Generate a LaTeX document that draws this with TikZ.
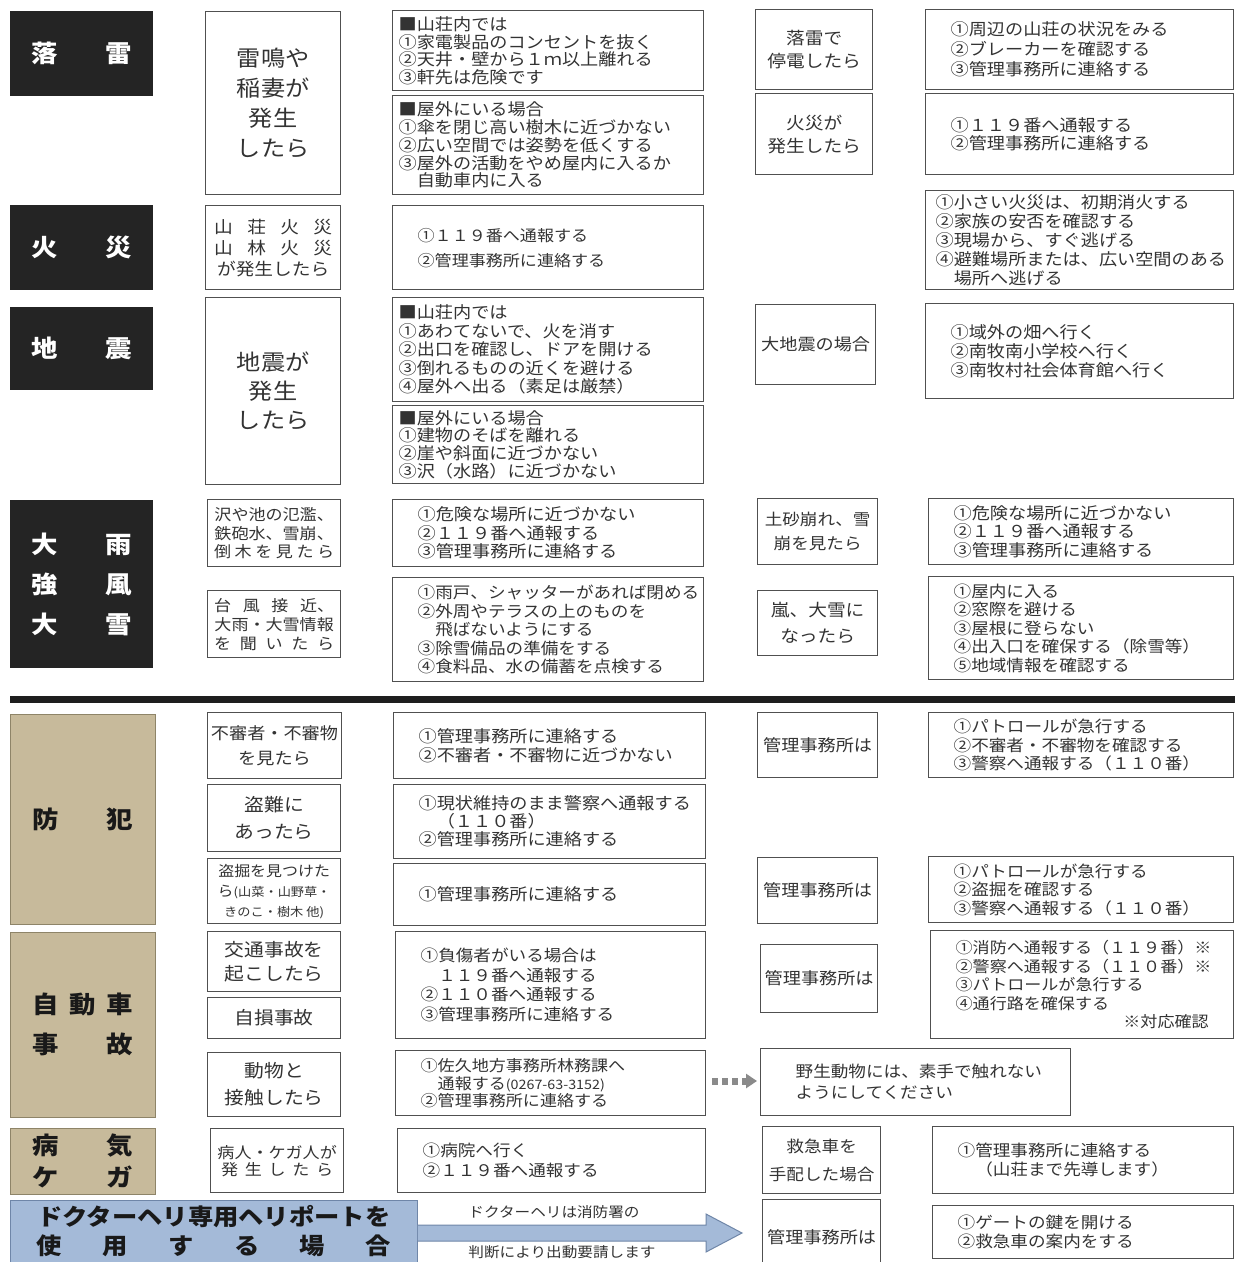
\documentclass[tikz,border=0pt]{standalone}
\usepackage{fontspec}
\setmainfont[FakeStretch=1.1]{Noto Sans CJK JP}
\usetikzlibrary{arrows.meta}
\definecolor{barc}{HTML}{8A8A8A}
\definecolor{boxc}{HTML}{505050}
\definecolor{txtc}{HTML}{333333}
\definecolor{ttlc}{HTML}{242424}
\definecolor{tanc}{HTML}{C7BA9B}
\definecolor{tanb}{HTML}{8E8468}
\definecolor{bluc}{HTML}{A4BAD8}
\definecolor{blub}{HTML}{6F86A8}
\definecolor{sepc}{HTML}{1E1E1E}
\newcommand\myfs[2]{\fontsize{#1}{#2}\selectfont}
\newcommand\spr[2]{\makebox[#1pt][s]{#2}}
\pgfdeclarelayer{bg}
\pgfsetlayers{bg,main}
\tikzset{
  box/.style={draw=boxc, line width=1.3pt, fill=white, text=txtc},
  bar/.style={draw=barc, line width=8pt},
  ttl/.style={fill=ttlc, text=white, font=\myfs{24}{40}\bfseries, align=center, inner sep=0pt},
  tanbox/.style={fill=tanc, draw=tanb, line width=0.6pt, text=black!90, font=\myfs{24}{40}\bfseries, align=center, inner sep=0pt},
  blubox/.style={fill=bluc, draw=blub, line width=0.8pt, text=black!90, font=\myfs{23}{29}\bfseries, align=center, inner sep=0pt},
  atext/.style={text=txtc, font=\myfs{14.2}{16}, inner sep=0pt},
  dotarr/.style={draw=barc, line width=7pt, dash pattern=on 6pt off 4pt, -{Triangle[length=11pt,width=14pt]}}
}
\newcommand\cbx[7]{\pgfmathsetmacro\bw{#4-#2}\pgfmathsetmacro\bh{#5-#3}%
  \node[box,align=center,minimum width=\bw pt,minimum height=\bh pt,anchor=north west,font=#6] (#1) at (#2,#3) {#7};}
\newcommand\lbx[8]{\pgfmathsetmacro\bh{#5-#3}\pgfmathsetmacro\tw{#4-#2-2*#6}%
  \node[box,align=left,inner xsep=#6pt,text width=\tw pt,minimum height=\bh pt,anchor=north west,font=#7] (#1) at (#2,#3) {#8};}
\newcommand\tbx[7]{\pgfmathsetmacro\bw{#4-#2}\pgfmathsetmacro\bh{#5-#3}%
  \node[#6,minimum width=\bw pt,minimum height=\bh pt,anchor=north west] (#1) at (#2,#3) {#7};}
\begin{document}
\begin{tikzpicture}[x=1pt,y=-1pt]
\clip (0,0) rectangle (1235,1262);
\fill[white] (0,0) rectangle (1235,1262);

% ---------- 落雷 ----------
\tbx{B1}{10}{11}{153}{96}{ttl}{\spr{100}{落\hfil 雷}}
\cbx{C1}{205}{11}{340}{194}{\myfs{22}{30}}{雷鳴や\\稲妻が\\発生\\したら}
\lbx{D1a}{392}{10}{703}{90}{6}{\myfs{16.5}{17.5}}{■山荘内では\\①家電製品のコンセントを抜く\\②天井・壁から１ｍ以上離れる\\③軒先は危険です}
\lbx{D1b}{392}{95}{703}{194}{6}{\myfs{16.5}{17.8}}{■屋外にいる場合\\①傘を閉じ高い樹木に近づかない\\②広い空間では姿勢を低くする\\③屋外の活動をやめ屋内に入るか\\　自動車内に入る}
\cbx{E1a}{755}{9}{872}{89}{\myfs{17}{23}}{落雷で\\停電したら}
\cbx{E1b}{755}{93}{872}{174}{\myfs{17}{23}}{火災が\\発生したら}
\lbx{F1a}{925}{9}{1233}{89}{25}{\myfs{16.5}{20}}{①周辺の山荘の状況をみる\\②ブレーカーを確認する\\③管理事務所に連絡する}
\lbx{F1b}{925}{93}{1233}{174}{25}{\myfs{16.5}{18}}{①１１９番へ通報する\\②管理事務所に連絡する}

% ---------- 火災 ----------
\tbx{B2}{10}{205}{153}{290}{ttl}{\spr{100}{火\hfil 災}}
\cbx{C2}{205}{205}{340}{289}{\myfs{17}{21}}{\spr{118}{山\hfil 荘\hfil 火\hfil 災}\\\spr{118}{山\hfil 林\hfil 火\hfil 災}\\が発生したら}
\lbx{D2}{392}{205}{703}{289}{25}{\myfs{15.5}{25}}{①１１９番へ通報する\\②管理事務所に連絡する}
\lbx{F2}{925}{190}{1233}{289}{10}{\myfs{16.5}{19}}{①小さい火災は、初期消火する\\②家族の安否を確認する\\③現場から、すぐ逃げる\\④避難場所または、広い空間のある\\　場所へ逃げる}

% ---------- 地震 ----------
\tbx{B3}{10}{307}{153}{390}{ttl}{\spr{100}{地\hfil 震}}
\cbx{C3}{205}{297}{340}{484}{\myfs{22}{29}}{地震が\\発生\\したら}
\lbx{D3a}{392}{297}{703}{401}{6}{\myfs{16.5}{18.5}}{■山荘内では\\①あわてないで、火を消す\\②出口を確認し、ドアを開ける\\③倒れるものの近くを避ける\\④屋外へ出る（素足は厳禁）}
\lbx{D3b}{392}{405}{703}{483}{6}{\myfs{16.5}{17.8}}{■屋外にいる場合\\①建物のそばを離れる\\②崖や斜面に近づかない\\③沢（水路）に近づかない}
\cbx{E3}{755}{304}{875}{384}{\myfs{16.5}{20}}{大地震の場合}
\lbx{F3}{925}{303}{1233}{398}{25}{\myfs{16.5}{19}}{①域外の畑へ行く\\②南牧南小学校へ行く\\③南牧村社会体育館へ行く}

% ---------- 大雨 強風 大雪 ----------
\tbx{B4}{10}{500}{153}{668}{ttl}{\spr{100}{大\hfil 雨}\\\spr{100}{強\hfil 風}\\\spr{100}{大\hfil 雪}}
\cbx{C4a}{207}{499}{340}{566}{\myfs{15.5}{18.5}}{沢や池の氾濫、\\鉄砲水、雪崩、\\\spr{120}{倒\hfil 木\hfil を\hfil 見\hfil た\hfil ら}}
\cbx{C4b}{207}{590}{340}{657}{\myfs{15.5}{19}}{\spr{120}{台\hfil 風\hfil 接\hfil 近、}\\大雨・大雪情報\\\spr{120}{を\hfil 聞\hfil い\hfil た\hfil ら}}
\lbx{D4a}{392}{499}{703}{566}{25}{\myfs{16.5}{18.5}}{①危険な場所に近づかない\\②１１９番へ通報する\\③管理事務所に連絡する}
\lbx{D4b}{392}{577}{703}{681}{25}{\myfs{16}{18.5}}{①雨戸、シャッターがあれば閉める\\②外周やテラスの上のものを\\　飛ばないようにする\\③除雪備品の準備をする\\④食料品、水の備蓄を点検する}
\cbx{E4a}{757}{498}{877}{564}{\myfs{16}{24}}{土砂崩れ、雪\\崩を見たら}
\cbx{E4b}{757}{590}{877}{655}{\myfs{17}{26}}{嵐、大雪に\\なったら}
\lbx{F4a}{928}{498}{1233}{564}{25}{\myfs{16.5}{18.5}}{①危険な場所に近づかない\\②１１９番へ通報する\\③管理事務所に連絡する}
\lbx{F4b}{928}{576}{1233}{679}{25}{\myfs{16}{18.5}}{①屋内に入る\\②窓際を避ける\\③屋根に登らない\\④出入口を確保する（除雪等）\\⑤地域情報を確認する}

% separator
\draw[line width=7pt, sepc] (10,699) -- (1235,699);

% ---------- 防犯 ----------
\tbx{B5}{10}{714}{155}{924}{tanbox}{\spr{100}{防\hfil 犯}}
\cbx{C5a}{207}{712}{340}{778}{\myfs{16.5}{25}}{不審者・不審物\\を見たら}
\cbx{C5b}{207}{784}{340}{851}{\myfs{18}{27}}{盗難に\\あったら}
\cbx{C5c}{207}{858}{340}{923}{\myfs{14.5}{20}}{盗掘を見つけた\\ら{\myfs{12}{20}(山菜・山野草・}\\{\myfs{12}{20}きのこ・樹木 他)}}
\lbx{D5a}{393}{712}{705}{778}{25}{\myfs{16.5}{18.5}}{①管理事務所に連絡する\\②不審者・不審物に近づかない}
\lbx{D5b}{393}{784}{705}{858}{25}{\myfs{16.5}{18}}{①現状維持のまま警察へ通報する\\　（１１０番）\\②管理事務所に連絡する}
\lbx{D5c}{393}{863}{705}{925}{25}{\myfs{16.5}{18}}{①管理事務所に連絡する}
\cbx{E5a}{757}{712}{877}{777}{\myfs{16.5}{20}}{管理事務所は}
\lbx{F5a}{928}{712}{1233}{777}{25}{\myfs{16}{18.5}}{①パトロールが急行する\\②不審者・不審物を確認する\\③警察へ通報する（１１０番）}
\cbx{E5c}{757}{857}{877}{923}{\myfs{16.5}{20}}{管理事務所は}
\lbx{F5c}{928}{856}{1233}{922}{25}{\myfs{16}{18.5}}{①パトロールが急行する\\②盗掘を確認する\\③警察へ通報する（１１０番）}

% ---------- 自動車事故 ----------
\tbx{B6}{10}{932}{155}{1117}{tanbox}{\spr{100}{自\hfil 動\hfil 車}\\\spr{100}{事\hfil 故}}
\cbx{C6a}{207}{931}{340}{991}{\myfs{18}{24}}{交通事故を\\起こしたら}
\cbx{C6b}{207}{997}{340}{1038}{\myfs{18}{20}}{自損事故}
\cbx{C6c}{207}{1052}{340}{1116}{\myfs{18}{27}}{動物と\\接触したら}
\lbx{D6a}{395}{931}{705}{1038}{25}{\myfs{16}{19.5}}{①負傷者がいる場合は\\　１１９番へ通報する\\②１１０番へ通報する\\③管理事務所に連絡する}
\lbx{D6c}{395}{1050}{705}{1115}{25}{\myfs{15.5}{17.5}}{①佐久地方事務所林務課へ\\　通報する{\myfs{13}{17.5}(0267-63-3152)}\\②管理事務所に連絡する}
\cbx{E6a}{760}{944}{877}{1012}{\myfs{16.5}{20}}{管理事務所は}
\lbx{F6a}{930}{930}{1233}{1038}{25}{\myfs{15.5}{18.5}}{①消防へ通報する（１１９番）※\\②警察へ通報する（１１０番）※\\③パトロールが急行する\\④通行路を確保する\\\hspace*{\fill}※対応確認}
\lbx{G6}{760}{1048}{1070}{1115}{35}{\myfs{16}{21}}{野生動物には、素手で触れない\\ようにしてください}

% ---------- 病気 ケガ ----------
\tbx{B7}{10}{1128}{155}{1194}{tanbox,font=\myfs{24}{32}\bfseries}{\spr{100}{病\hfil 気}\\\spr{100}{ケ\hfil ガ}}
\cbx{C7}{210}{1128}{343}{1192}{\myfs{15.5}{17}}{病人・ケガ人が\\\spr{112}{発\hfil 生\hfil し\hfil た\hfil ら}}
\lbx{D7}{397}{1128}{705}{1192}{25}{\myfs{16}{20}}{①病院へ行く\\②１１９番へ通報する}
\cbx{E7}{762}{1126}{880}{1193}{\myfs{16}{28}}{救急車を\\手配した場合}
\lbx{F7}{932}{1126}{1233}{1193}{25}{\myfs{16}{18.5}}{①管理事務所に連絡する\\　（山荘まで先導します）}

% ---------- ドクターヘリ ----------
\tbx{BL}{10}{1200}{417}{1262}{blubox}{ドクターヘリ専用ヘリポートを\\\spr{354}{使\hfil 用\hfil す\hfil る\hfil 場\hfil 合}}
\cbx{E8}{762}{1199}{880}{1275}{\myfs{16.5}{20}}{管理事務所は}
\lbx{F8}{932}{1205}{1233}{1258}{25}{\myfs{16}{19}}{①ゲートの鍵を開ける\\②救急車の案内をする}
\node[atext] (AT1) at (554,1212) {ドクターヘリは消防署の};
\node[atext] (AT2) at (562,1252) {判断により出動要請します};
\coordinate (atip) at ([xshift=-20pt]E8.west |- 0,1233);
\draw[fill=bluc, draw=blub, line width=1pt] (BL.east |- 0,1225) -- (706,1225) -- (706,1214) -- (atip) -- (706,1252) -- (706,1241) -- (BL.east |- 0,1241);

% ---------- connectors ----------
\begin{pgfonlayer}{bg}
\draw[bar] (B1.east |- 0,50) -- (C1.west |- 0,50);
\draw[bar] (C1.east |- 0,50) -- (D1a.west |- 0,50);
\draw[bar] (D1a.east |- 0,50) -- (E1a.west |- 0,50);
\draw[bar] (E1a.east |- 0,50) -- (F1a.west |- 0,50);
\draw[bar] (E1a.south) -- (E1b.north);
\draw[bar] (E1b.east |- 0,122) -- (F1b.west |- 0,122);
\draw[bar] (B2.east |- 0,244) -- (C2.west |- 0,244);
\draw[bar] (C2.east |- 0,244) -- (D2.west |- 0,244);
\draw[bar] (D2.east |- 0,243) -- (F2.west |- 0,243);
\draw[bar] (B3.east |- 0,345) -- (C3.west |- 0,345);
\draw[bar] (C3.east |- 0,345) -- (D3a.west |- 0,345);
\draw[bar] (C3.east |- 0,433) -- (D3b.west |- 0,433);
\draw[bar] (D3a.east |- 0,345) -- (E3.west |- 0,345);
\draw[bar] (E3.east |- 0,345) -- (F3.west |- 0,345);
\draw[bar] (D3b.east |- 0,440) -| (E3.south);
\draw[bar] (B4.east |- 0,537) -- (C4a.west |- 0,537);
\draw[bar] (C4a.east |- 0,537) -- (D4a.west |- 0,537);
\draw[bar] (D4a.east |- 0,534) -- (E4a.west |- 0,534);
\draw[bar] (E4a.east |- 0,534) -- (F4a.west |- 0,534);
\draw[bar] (B4.east |- 0,627) -- (C4b.west |- 0,627);
\draw[bar] (C4b.east |- 0,627) -- (D4b.west |- 0,627);
\draw[bar] (D4b.east |- 0,622) -- (E4b.west |- 0,622);
\draw[bar] (E4b.east |- 0,622) -- (F4b.west |- 0,622);
\draw[bar] (B5.east |- 0,745) -- (C5a.west |- 0,745);
\draw[bar] (C5a.east |- 0,745) -- (D5a.west |- 0,745);
\draw[bar] (D5a.east |- 0,745) -- (E5a.west |- 0,745);
\draw[bar] (E5a.east |- 0,745) -- (F5a.west |- 0,745);
\draw[bar] (B5.east |- 0,818) -- (C5b.west |- 0,818);
\draw[bar] (C5b.east |- 0,818) -- (D5b.west |- 0,818);
\draw[bar] (B5.east |- 0,888) -- (C5c.west |- 0,888);
\draw[bar] (C5c.east |- 0,888) -- (D5c.west |- 0,888);
\draw[bar] (D5c.east |- 0,889) -- (E5c.west |- 0,889);
\draw[bar] (E5c.east |- 0,889) -- (F5c.west |- 0,889);
\draw[bar] (B6.east |- 0,968) -- (C6a.west |- 0,968);
\draw[bar] (C6a.east |- 0,968) -- (D6a.west |- 0,968);
\draw[bar] (B6.east |- 0,1017) -- (C6b.west |- 0,1017);
\draw[bar] (C6b.east |- 0,1017) -- (D6a.west |- 0,1017);
\draw[bar] (B6.east |- 0,1083) -- (C6c.west |- 0,1083);
\draw[bar] (C6c.east |- 0,1083) -- (D6c.west |- 0,1083);
\draw[bar] (D6a.east |- 0,978) -- (E6a.west |- 0,978);
\draw[bar] (E6a.east |- 0,978) -- (F6a.west |- 0,978);
\draw[bar] (B7.east |- 0,1155) -- (C7.west |- 0,1155);
\draw[bar] (C7.east |- 0,1155) -- (D7.west |- 0,1155);
\draw[bar] (D7.east |- 0,1157) -- (E7.west |- 0,1157);
\draw[bar] (E7.east |- 0,1157) -- (F7.west |- 0,1157);
\draw[bar] (E8.east |- 0,1232) -- (F8.west |- 0,1232);
\end{pgfonlayer}
\draw[dotarr, shorten <=6pt, shorten >=3pt] (D6c.east |- 0,1081) -- (G6.west |- 0,1081);
\end{tikzpicture}
\end{document}
